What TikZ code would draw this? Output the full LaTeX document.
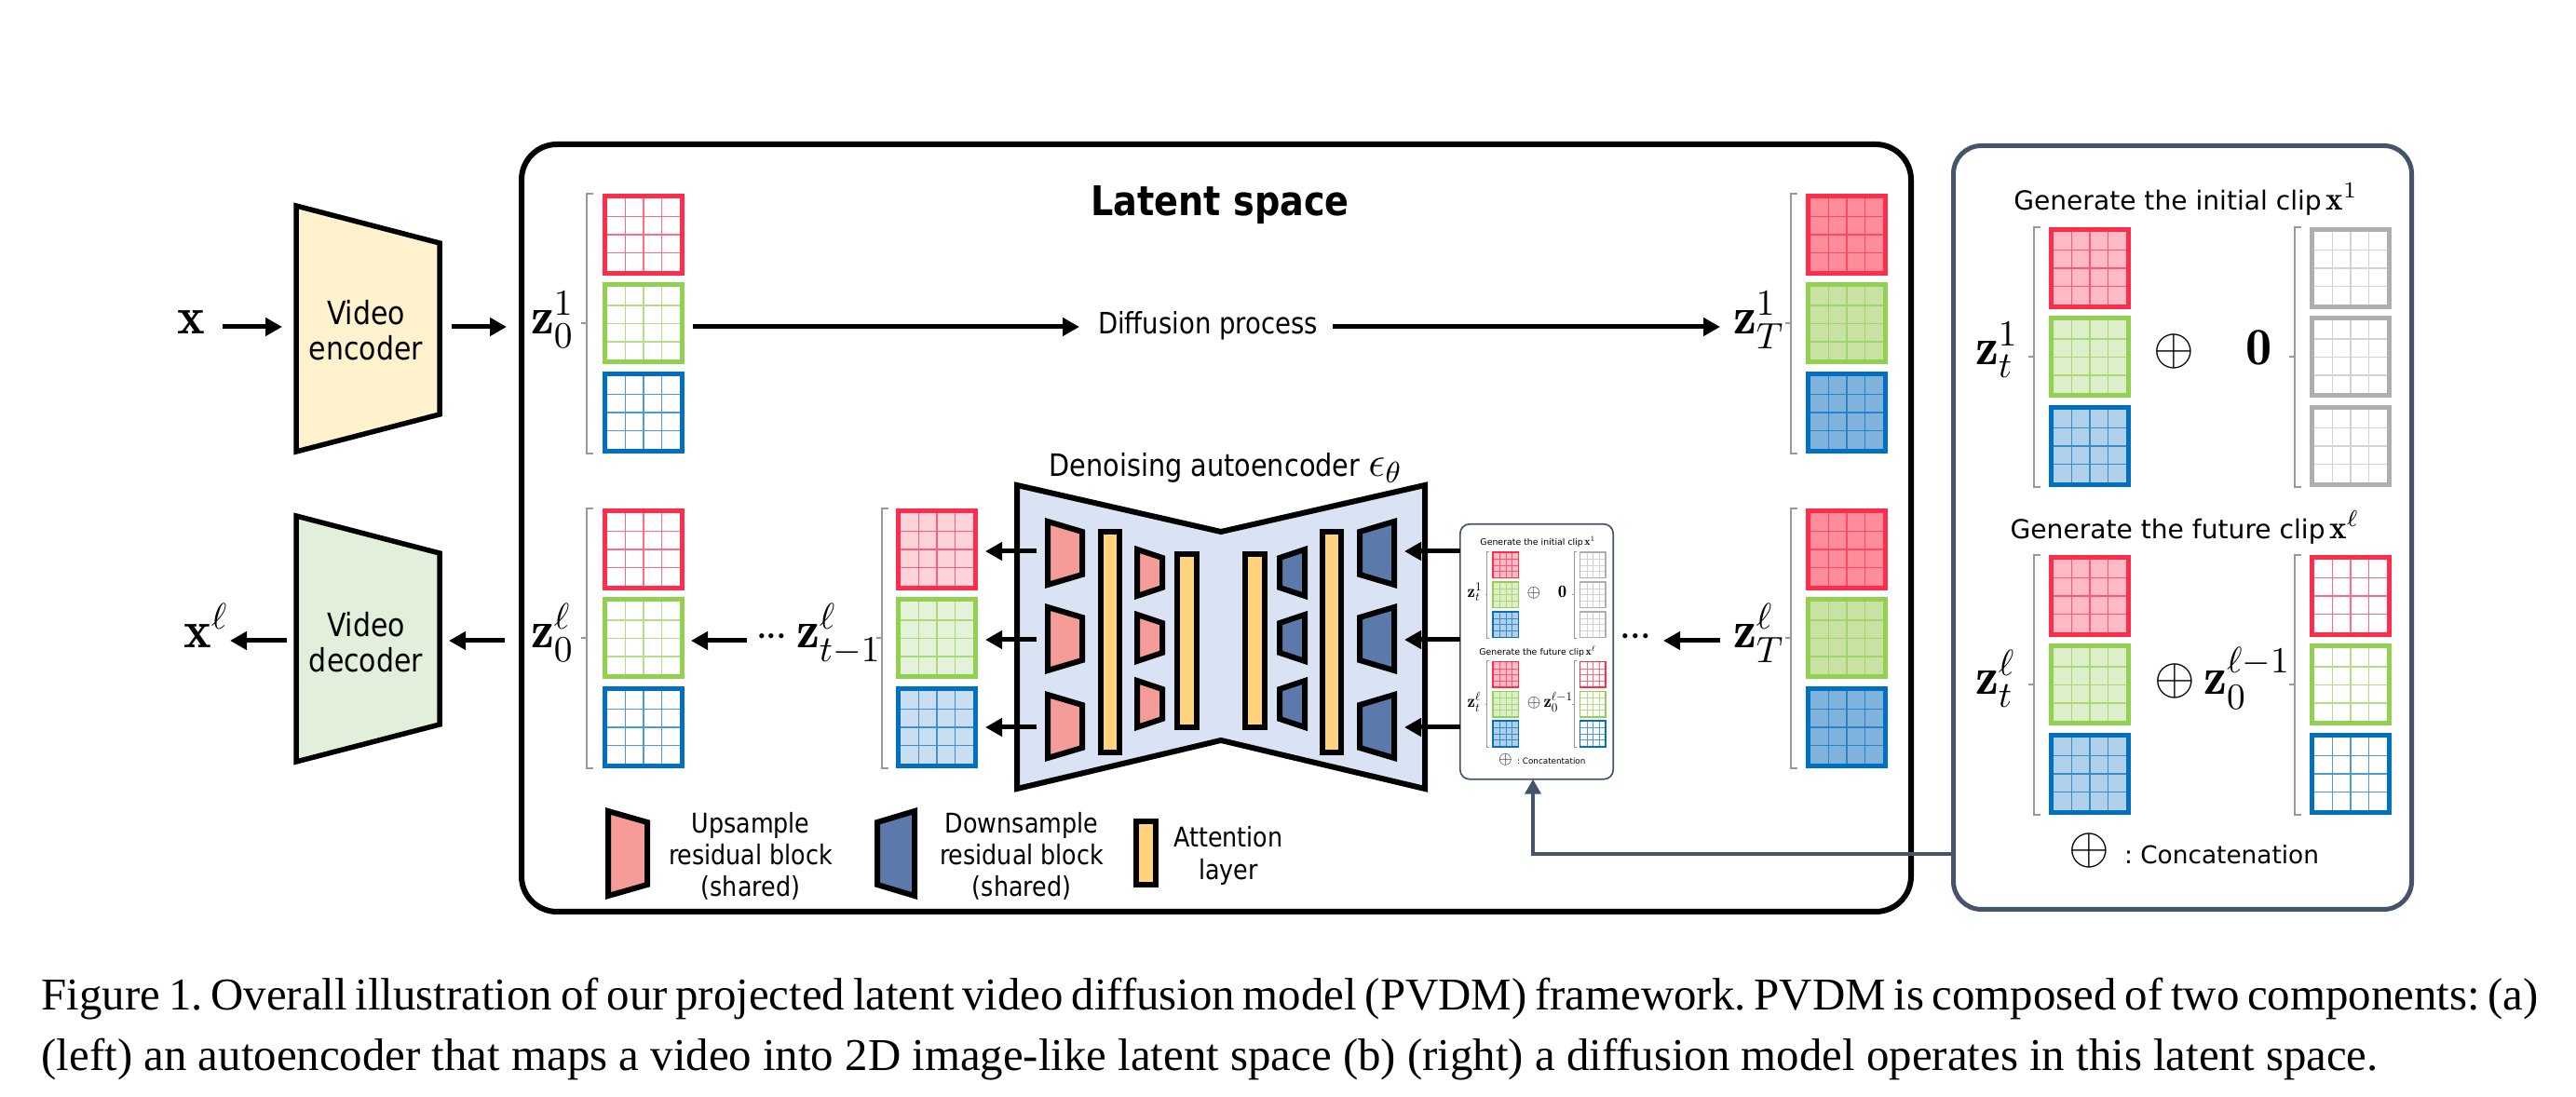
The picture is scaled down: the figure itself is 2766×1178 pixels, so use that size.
\RequirePackage{fix-cm}
\documentclass[tikz,border=0pt]{standalone}
\usepackage{amsmath}
\usepackage{fontspec}
\newfontfamily\tah{DejaVu Sans}[FakeStretch=0.87]
\newfontfamily\verd{DejaVu Sans}
\newfontfamily\capfont{Liberation Serif}
\usetikzlibrary{arrows.meta,calc}

\definecolor{cRed}{HTML}{FF2D4B}
\definecolor{cGreen}{HTML}{92D050}
\definecolor{cBlue}{HTML}{0070C0}
\definecolor{cGray}{HTML}{AFAFAF}
\definecolor{tRed}{HTML}{FF8C9B}
\definecolor{tGreen}{HTML}{C8E2A4}
\definecolor{tBlue}{HTML}{80B3DC}
\definecolor{lRed}{HTML}{FFD3DA}
\definecolor{lGreen}{HTML}{E5F2DA}
\definecolor{lBlue}{HTML}{C9DEF0}
\definecolor{pRed}{HTML}{FFBAC6}
\definecolor{pGreen}{HTML}{DDEECB}
\definecolor{pBlue}{HTML}{B0CFE8}
\definecolor{encFill}{HTML}{FFF2CC}
\definecolor{decFill}{HTML}{E2EFDA}
\definecolor{netFill}{HTML}{DAE3F3}
\definecolor{upFill}{HTML}{F59C98}
\definecolor{downFill}{HTML}{5C79AC}
\definecolor{attFill}{HTML}{FFD47C}
\definecolor{slate}{HTML}{44546A}
\definecolor{brk}{HTML}{999999}

% line-width factor (changed inside the small copy of the panel)
\newcommand\PF{1}

% one 4x4 latent grid: #1 top-left, #2 border, #3 fill, #4 inner lines
\newcommand\cellgrid[4]{%
  \begin{scope}[shift={#1}]
    \fill[#3] (0,0) rectangle (88,88);
    \foreach \k in {24.5,44,63.5}{
      \draw[#4, line width=\PF*0.14mm] (\k,0) -- (\k,88);
      \draw[#4, line width=\PF*0.14mm] (0,\k) -- (88,\k);
    }
    \draw[#2, line width=\PF*0.5mm] (2.5,2.5) rectangle (85.5,85.5);
  \end{scope}}

% red / green / blue stack of grids: #1 x, #2 y, #3-#5 fills
\newcommand\stackRGB[5]{%
  \cellgrid{(#1,#2)}{cRed}{#3}{cRed!70!#3}%
  \cellgrid{(#1,#2+95.5)}{cGreen}{#4}{cGreen!70!#4}%
  \cellgrid{(#1,#2+191)}{cBlue}{#5}{cBlue!70!#5}}

\newcommand\stackGray[2]{%
  \cellgrid{(#1,#2)}{cGray}{white}{cGray!55!white}%
  \cellgrid{(#1,#2+95.5)}{cGray}{white}{cGray!55!white}%
  \cellgrid{(#1,#2+191)}{cGray}{white}{cGray!55!white}}

% thin grey bracket: #1 x, #2 top, #3 bottom
\newcommand\sbracket[3]{%
  \draw[brk, line width=\PF*0.2mm] (#1+7,#2) -- (#1,#2) -- (#1,#3) -- (#1+7,#3);
  \draw[brk, line width=\PF*0.2mm] (#1,{(#2+#3)/2}) -- ++(-6,0);}

% residual block: #1 fill, #2 left x, #3 right x, #4 centre y, #5 left half-height, #6 right half-height
\newcommand\resblock[6]{%
  \draw[block, fill=#1] (#2,#4-#5) -- (#3,#4-#6) -- (#3,#4+#6) -- (#2,#4+#5) -- cycle;}

\tikzset{
  arr/.style={line width=0.5mm, -{Triangle[length=1.8mm,width=1.9mm]}},
  mlabel/.style={inner sep=0pt, outer sep=0pt, font=\fontsize{16}{19}\selectfont},
  dotlabel/.style={inner sep=0pt, outer sep=0pt, font=\fontsize{14}{16}\selectfont},
  tahtext/.style={inner sep=0pt, outer sep=0pt, align=center, font=\tah\fontsize{9.8}{10.8}\selectfont},
  legtext/.style={inner sep=0pt, outer sep=0pt, align=center, font=\tah\fontsize{8.3}{9.7}\selectfont},
  ptitle/.style={inner sep=0pt, outer sep=0pt, font=\verd\fontsize{8}{10}\selectfont},
  captext/.style={inner sep=0pt, anchor=base west, font=\capfont\fontsize{13.9}{17}\selectfont\frenchspacing},
  block/.style={draw=black, line width=0.6mm},
  coder/.style={draw=black, line width=0.55mm},
  gridstack/.style={anchor=north west, minimum width=8.8mm, minimum height=27.9mm, inner sep=0pt, outer sep=0pt},
  panelframe/.style={draw=slate, fill=white, anchor=north west, inner sep=0pt, outer sep=0pt,
    minimum width=49.2mm, minimum height=82.0mm},
}

% conditioning panel drawn in local pixel coordinates: #1 name, #2 line factor, #3 legend word
\newcommand\clippanel[3]{%
  \renewcommand\PF{#2}%
  \node[panelframe, line width=#2*0.5mm, rounded corners=#2*3mm] (#1) at (2.5,2.5) {};
  \node[ptitle, anchor=mid] (#1-t1) at (252,64) {Generate the initial clip\,{\fontsize{10}{12}\selectfont$\mathbf{x}^1$}};
  \node[mlabel, anchor=mid west] (#1-za) at (26,230) {$\mathbf{z}_t^1$};
  \sbracket{89}{90}{369}
  \stackRGB{105}{90}{pRed}{pGreen}{pBlue}
  \node[mlabel, anchor=mid] (#1-oa) at (239,230) {$\oplus$};
  \node[mlabel, anchor=mid] (#1-zero) at (331,230) {$\mathbf{0}$};
  \sbracket{369}{90}{369}
  \stackGray{385}{90}
  \node[ptitle, anchor=mid] (#1-t2) at (251,417) {Generate the future clip\,{\fontsize{10}{12}\selectfont$\mathbf{x}^\ell$}};
  \node[mlabel, anchor=mid west] (#1-zb) at (26,584) {$\mathbf{z}_t^\ell$};
  \sbracket{89}{442}{721}
  \stackRGB{105}{442}{pRed}{pGreen}{pBlue}
  \node[mlabel, anchor=mid] (#1-ob) at (240,584) {$\oplus$};
  \node[mlabel, anchor=mid west] (#1-zc) at (271,584) {$\mathbf{z}_0^{\ell-1}$};
  \sbracket{369}{442}{721}
  \stackRGB{385}{442}{white}{white}{white}
  \node[mlabel, anchor=mid] (#1-oc) at (148,766) {$\oplus$};
  \node[ptitle, font=\verd\fontsize{7.5}{9}\selectfont, anchor=mid west] (#1-leg) at (186,766) {:\ #3};
}

\begin{document}
\begin{tikzpicture}[x=0.1mm, y=-0.1mm]
\useasboundingbox (0,0) rectangle (2766,1178);

% ---------- video autoencoder ----------
\node[mlabel, anchor=mid west] (xin) at (190,351) {$\mathbf{x}$};
\draw[coder, fill=encFill] (318,221) -- (472,261) -- (472,445) -- (318,485) -- cycle;
\node[tahtext] (enc) at (393,355) {Video\\encoder};
\coordinate (encW) at (318,351);
\coordinate (encE) at (472,351);

\draw[coder, fill=decFill] (318,554) -- (472,594) -- (472,778) -- (318,818) -- cycle;
\node[tahtext] (dec) at (393,690) {Video\\decoder};
\coordinate (decW) at (318,688);
\coordinate (decE) at (472,688);
\node[mlabel, anchor=mid east] (xout) at (245,688) {$\mathbf{x}^\ell$};

% ---------- latent space frame ----------
\node[draw, line width=0.6mm, rounded corners=3.8mm, anchor=north west, inner sep=0pt, outer sep=0pt,
      minimum width=149.2mm, minimum height=82.4mm] (latent) at (560,155) {};
\node[font=\tah\bfseries\fontsize{12.5}{15}\selectfont, inner sep=0pt, anchor=base] (title) at (1310,232) {Latent space};

% upper row: diffusion process
\node[mlabel, anchor=mid west] (zA) at (570,351) {$\mathbf{z}_0^1$};
\sbracket{630}{208}{487}
\node[gridstack] (zAS) at (647,208) {};
\stackRGB{647}{208}{white}{white}{white}
\node[tahtext, font=\tah\fontsize{9}{11}\selectfont, anchor=mid] (diff) at (1297,351) {Diffusion process};
\node[mlabel, anchor=mid west] (zTA) at (1861,351) {$\mathbf{z}_T^1$};
\sbracket{1923}{208}{487}
\node[gridstack] (zTAS) at (1939,208) {};
\stackRGB{1939}{208}{tRed}{tGreen}{tBlue}

% lower row: denoising
\node[mlabel, anchor=mid west] (zB) at (570,688) {$\mathbf{z}_0^\ell$};
\sbracket{630}{546}{825}
\node[gridstack] (zBS) at (647,546) {};
\stackRGB{647}{546}{white}{white}{white}
\node[dotlabel, anchor=mid west] (dotsL) at (811,688) {${\cdot}\mkern-1mu{\cdot}\mkern-1mu{\cdot}$};
\node[mlabel, anchor=mid west] (ztm) at (855,688) {$\mathbf{z}_{t-1}^\ell$};
\sbracket{947}{546}{825}
\node[gridstack] (ztmS) at (962,546) {};
\stackRGB{962}{546}{lRed}{lGreen}{lBlue}
\node[mlabel, anchor=mid west] (zTB) at (1861,688) {$\mathbf{z}_T^\ell$};
\sbracket{1923}{546}{825}
\node[gridstack] (zTBS) at (1939,546) {};
\stackRGB{1939}{546}{tRed}{tGreen}{tBlue}
\node[dotlabel, anchor=mid east] (dotsR) at (1774,688) {${\cdot}\mkern-1mu{\cdot}\mkern-1mu{\cdot}$};

% denoising autoencoder
\node[tahtext, font=\tah\fontsize{9.4}{11}\selectfont, anchor=base] (dae) at (1316,512)
  {Denoising autoencoder {\fontsize{13}{15}\selectfont$\epsilon_\theta$}};
\draw[block, fill=netFill] (1092,521) -- (1311,571) -- (1530,521) -- (1530,847) -- (1311,795) -- (1092,847) -- cycle;
\foreach \c in {594,686,780}{
  \resblock{upFill}{1125}{1162}{\c}{34}{23}
  \resblock{downFill}{1460}{1497}{\c}{23}{34}
}
\foreach \c in {615,685,756}{
  \resblock{upFill}{1221}{1248}{\c}{25}{16}
  \resblock{downFill}{1374}{1401}{\c}{16}{25}
}
\draw[block, fill=attFill] (1182,571) rectangle (1202,808);
\draw[block, fill=attFill] (1264,595) rectangle (1285,781);
\draw[block, fill=attFill] (1337,595) rectangle (1358,781);
\draw[block, fill=attFill] (1420,571) rectangle (1440,808);

% legend
\resblock{upFill}{653}{695}{916.5}{45.5}{33.5}
\node[legtext] (lup) at (806,919) {Upsample\\residual block\\(shared)};
\resblock{downFill}{942}{982}{916.5}{33.5}{45.5}
\node[legtext] (ldown) at (1097,919) {Downsample\\residual block\\(shared)};
\draw[block, fill=attFill] (1220,882) rectangle (1241,950);
\node[legtext] (latt) at (1319,919) {Attention\\layer};

% ---------- conditioning panels ----------
\begin{scope}[shift={(2095,154)}]
  \clippanel{bigpanel}{1}{Concatenation}
\end{scope}
\begin{scope}[shift={(1567,562)}, scale=0.334, transform shape]
  \clippanel{minipanel}{0.334}{Concatentation}
\end{scope}

% ---------- connectors ----------
\draw[arr, shorten <=1.9mm, shorten >=1.5mm] (xin.mid east) -- (encW);
\draw[arr, shorten <=1.3mm, shorten >=2.6mm] (encE) -- (zA.mid west);
\draw[arr, shorten <=0.9mm, shorten >=2mm] (zAS.east |- diff.mid west) -- (diff.mid west);
\draw[arr, shorten <=1.6mm, shorten >=1.4mm] (diff.mid east) -- (zTA.mid west);

\draw[arr, shorten <=0.9mm, shorten >=0.7mm] (dotsL.mid west) -- (zBS.east |- dotsL.mid west);
\draw[arr, shorten <=2.8mm, shorten >=1mm] (zB.mid west) -- (decE);
\draw[arr, shorten <=1mm, shorten >=0.2mm] (decW) -- (xout.mid east);
\draw[arr, shorten <=1.4mm, shorten >=1.2mm] (zTB.mid west) -- (dotsR.mid east);

\foreach \r/\yy in {1/592, 2/687, 3/781}{
  \coordinate (in\r) at (1508,\yy);
  \draw[arr] (in\r -| minipanel.west) -- (in\r);
  \coordinate (out\r) at (1113,\yy);
  \draw[arr, shorten >=0.8mm] (out\r) -- (out\r -| ztmS.east);
}

\coordinate (fb) at (1646,917);
\draw[slate, line width=0.4mm, -{Triangle[length=1.6mm,width=1.7mm]}]
  (fb -| bigpanel.west) -- (fb) -- (fb |- minipanel.south);

% ---------- caption ----------
\node[captext] (cap1) at (44,1085)
  {\makebox[268.1mm][s]{Figure 1. Overall illustration of our projected latent video diffusion model (PVDM) framework. PVDM is composed of two components: (a)}};
\node[captext] (cap2) at (44,1149)
  {(left) an autoencoder that maps a video into 2D image-like latent space (b) (right) a diffusion model operates in this latent space.};
\end{tikzpicture}
\end{document}
